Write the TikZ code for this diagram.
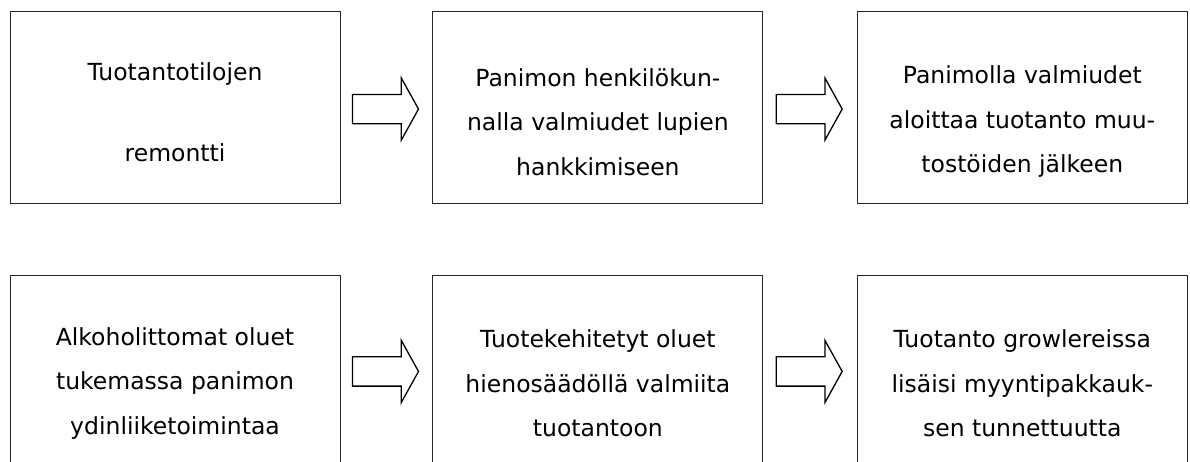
\documentclass[tikz,border=0pt]{standalone}
\usepackage{fontspec}
\setmainfont{DejaVu Sans}
\usepackage{tikz}
\usetikzlibrary{shapes.arrows,positioning,calc}

\tikzset{
  stepbox/.style={rectangle, draw=black!85, line width=0.9pt,
                  minimum width=330pt, minimum height=192pt, inner sep=0pt},
  lowbox/.style={stepbox, minimum height=220pt},
  steptext/.style={align=center, inner sep=0pt,
                   font=\fontsize{23.5}{44.5}\selectfont},
  blockarrow/.style={single arrow, draw=black, line width=1.3pt, fill=white,
                     minimum height=66pt, inner xsep=0pt, inner ysep=14pt,
                     single arrow head extend=16.5pt, single arrow tip angle=122}
}

\begin{document}
\begin{tikzpicture}[x=1pt, y=-1pt]
    \useasboundingbox (0,0) rectangle (1190,461);
    \clip (0,0) rectangle (1190,461);

    % upper row
    \node[stepbox] (remontti) at (175,107) {};
    \node[stepbox, right=92pt of remontti] (luvat) {};
    \node[stepbox, right=93.5pt of luvat] (valmius) {};

    \node[steptext] (remonttitxt) at ([yshift=-5.5pt]remontti.center)
        {Tuotantotilojen\\[36.5pt]remontti};
    \node[steptext] (luvattxt) at ([yshift=-15pt]luvat.center)
        {Panimon henkilökun-\\nalla valmiudet lupien\\hankkimiseen};
    \node[steptext] (valmiustxt) at ([yshift=-15pt]valmius.center)
        {Panimolla valmiudet\\aloittaa tuotanto muu-\\tostöiden jälkeen};

    % lower row
    \node[lowbox, below=72pt of remontti] (alkoholiton) {};
    \node[lowbox, below=72pt of luvat] (kehitys) {};
    \node[lowbox, below=72pt of valmius] (growler) {};

    \node[steptext] (alkoholitontxt) at ([yshift=2.5pt]alkoholiton.center)
        {Alkoholittomat oluet\\tukemassa panimon\\ydinliiketoimintaa};
    \node[steptext] (kehitystxt) at ([yshift=2.5pt]kehitys.center)
        {Tuotekehitetyt oluet\\hienosäädöllä valmiita\\tuotantoon};
    \node[steptext] (growlertxt) at ([yshift=2.5pt]growler.center)
        {Tuotanto growlereissa\\lisäisi myyntipakkauk-\\sen tunnettuutta};

    % block arrows
    \node[blockarrow] (nuoli1) at ([xshift=-5pt, yshift=-98.5pt]$(remontti.north east)!0.5!(luvat.north west)$) {};
    \node[blockarrow] (nuoli2) at ([xshift=-5pt, yshift=-98.5pt]$(luvat.north east)!0.5!(valmius.north west)$) {};
    \node[blockarrow] (nuoli3) at ([xshift=-5pt, yshift=-96pt]$(alkoholiton.north east)!0.5!(kehitys.north west)$) {};
    \node[blockarrow] (nuoli4) at ([xshift=-5pt, yshift=-96pt]$(kehitys.north east)!0.5!(growler.north west)$) {};
\end{tikzpicture}
\end{document}
